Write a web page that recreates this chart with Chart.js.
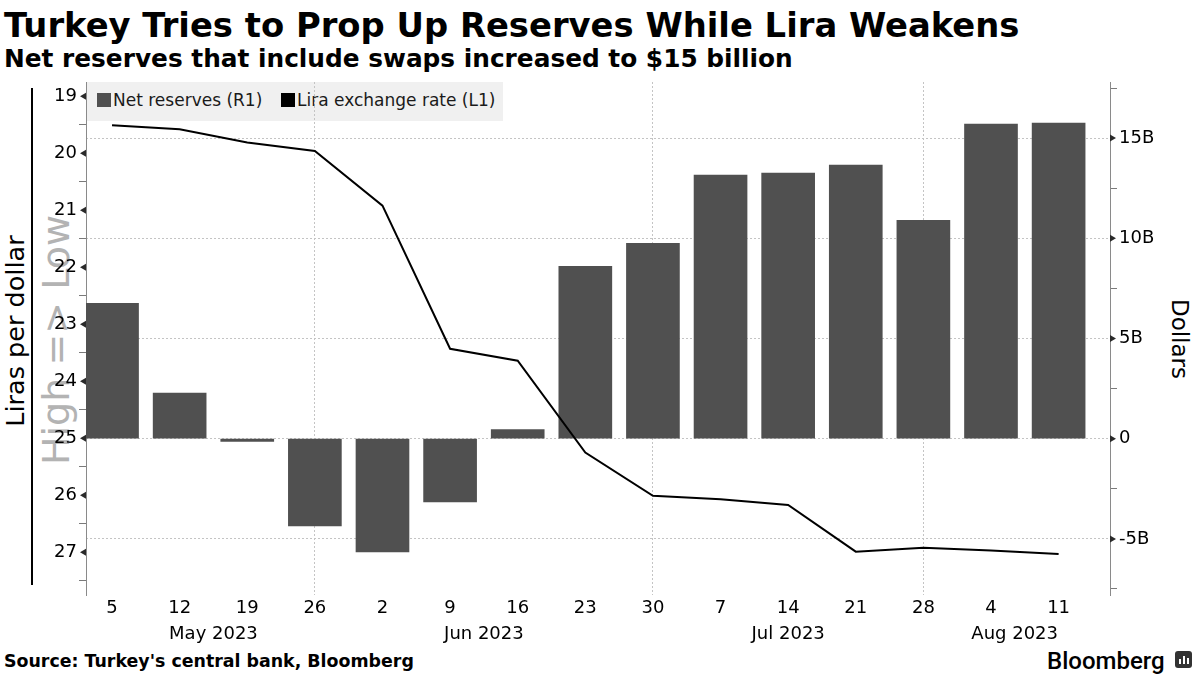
<!DOCTYPE html>
<html>
<head>
<meta charset="utf-8">
<script src="https://cdn.jsdelivr.net/npm/chart.js@4.4.0/dist/chart.umd.min.js"></script>
<style>
  html, body { margin: 0; padding: 0; background: #fff; }
  #wrap { position: relative; width: 1200px; height: 675px; overflow: hidden; font-family: "DejaVu Sans", sans-serif; color: #000; }
  #c { position: absolute; left: 0; top: 0; z-index: 2; }
  .t { position: absolute; white-space: nowrap; line-height: 1; z-index: 1; }
  .rot { position: absolute; z-index: 1; text-align: center; white-space: nowrap; }
  #legend { position: absolute; left: 86px; top: 82px; width: 417px; height: 39px; background: #f0f0f0; z-index: 1; }
  #legend .sw { position: absolute; top: 11px; width: 14px; height: 14px; }
  #legend .lt { position: absolute; top: 9px; font-size: 17px; line-height: 19px; color: #1a1a1a; white-space: nowrap; }
  #logoIcon { position: absolute; left: 1175px; top: 651px; width: 17px; height: 17px; background: #333; border-radius: 3px; z-index: 1; }
  #logoIcon span { position: absolute; bottom: 4px; width: 2px; background: #fff; }
</style>
</head>
<body>
<div id="wrap">
  <div class="t" style="left:4px; top:9px; font-size:33.8px; font-weight:bold;">Turkey Tries to Prop Up Reserves While Lira Weakens</div>
  <div class="t" style="left:4px; top:47px; font-size:24.8px; font-weight:bold;">Net reserves that include swaps increased to $15 billion</div>

  <div id="legend">
    <div class="sw" style="left:11px; background:#505050;"></div>
    <div class="lt" style="left:27px;">Net reserves (R1)</div>
    <div class="sw" style="left:195px; background:#000;"></div>
    <div class="lt" style="left:211px;">Lira exchange rate (L1)</div>
  </div>

  <div class="rot" style="left:-135px; top:316px; width:300px; height:30px; line-height:30px; font-size:25.5px; transform: rotate(-90deg);">Liras per dollar</div>
  <div style="position:absolute; left:31px; top:88px; width:1.5px; height:497px; background:#000; z-index:1;"></div>
  <div class="rot" style="left:-144px; top:318px; width:400px; height:44px; line-height:44px; font-size:38px; color:#b3b3b3; transform: rotate(-90deg);">High =&gt; Low</div>
  <div class="rot" style="left:1030px; top:324px; width:300px; height:30px; line-height:30px; font-size:23px; transform: rotate(90deg);">Dollars</div>

  <div class="t" style="left:4px; top:653px; font-size:17.4px; font-weight:bold;">Source: Turkey's central bank, Bloomberg</div>
  <div class="t" style="left:1047px; top:649px; font-size:24px; font-family: Roboto, 'DejaVu Sans', sans-serif; font-weight:500;">Bloomberg</div>
  <div id="logoIcon"><span style="left:4px; height:5px;"></span><span style="left:8px; height:8px;"></span><span style="left:12px; height:6px;"></span></div>

  <canvas id="c" width="1200" height="675"></canvas>
</div>
<script>
// ---- data ----
const weekLabels = ['5','12','19','26','2','9','16','23','30','7','14','21','28','4','11'];
const monthLabels = ['May 2023','Jun 2023','Jul 2023','Aug 2023'];
const monthLabelAt = [1.5, 5.5, 10, 13.35];
const monthGridAt = [3, 8, 12];
const netReserves = [6.75, 2.28, -0.13, -4.35, -5.65, -3.15, 0.45, 8.6, 9.75, 13.15, 13.25, 13.65, 10.9, 15.7, 15.75];
const liraRate = [19.51, 19.58, 19.81, 19.96, 20.92, 23.43, 23.64, 25.25, 26.01, 26.07, 26.17, 26.99, 26.92, 26.97, 27.03];
const leftTicks = [19, 20, 21, 22, 23, 24, 25, 26, 27];
const rightTicks = [-5, 0, 5, 10, 15];
const rightTickLabels = ['-5B', '0', '5B', '10B', '15B'];

// ---- axis ranges ----
const xMin = -0.385, xMax = 14.76;
const leftMin = 18.75, leftMax = 27.75;
const rightMin = -7.8, rightMax = 17.8;

const leftMinor = leftTicks.map(v => v + 0.5).filter(v => v <= leftMax);
const rightMinor = [rightTicks[0] - 2.5].concat(rightTicks.map(v => v + 2.5)).filter(v => v >= rightMin && v <= rightMax);

// x ticks: week ticks + month label positions
const xTickMap = new Map();
weekLabels.forEach((w, i) => xTickMap.set(i, [w, '']));
monthLabels.forEach((m, k) => {
  const p = monthLabelAt[k];
  const cur = xTickMap.get(p);
  if (cur) cur[1] = m; else xTickMap.set(p, ['', m]);
});
const xTickValues = Array.from(xTickMap.keys()).sort((a, b) => a - b);

Chart.defaults.font.family = "'DejaVu Sans', sans-serif";
Chart.defaults.color = '#000';

const tickArrows = {
  id: 'tickArrows',
  afterDraw(chart) {
    const ctx = chart.ctx;
    const draw = (scale, values, dir) => {
      values.forEach(v => {
        const y = scale.getPixelForValue(v);
        const x0 = dir < 0 ? scale.right : scale.left;
        ctx.beginPath();
        ctx.moveTo(x0, y - 3.5);
        ctx.lineTo(x0 + dir * 6, y);
        ctx.lineTo(x0, y + 3.5);
        ctx.closePath();
        ctx.fill();
      });
    };
    ctx.save();
    ctx.fillStyle = '#2a2a2a';
    draw(chart.scales.yL, leftTicks, -1);
    draw(chart.scales.yR, rightTicks, 1);
    ctx.restore();
  }
};

new Chart(document.getElementById('c'), {
  type: 'bar',
  data: {
    datasets: [
      {
        type: 'line',
        label: 'Lira exchange rate (L1)',
        data: liraRate.map((v, i) => ({ x: i, y: v })),
        yAxisID: 'yL',
        xAxisID: 'x',
        borderColor: '#000',
        borderWidth: 2,
        pointRadius: 0,
        tension: 0,
        fill: false,
        order: 0
      },
      {
        type: 'bar',
        label: 'Net reserves (R1)',
        data: netReserves.map((v, i) => ({ x: i, y: v })),
        yAxisID: 'yR',
        xAxisID: 'x',
        backgroundColor: '#505050',
        borderWidth: 0,
        barThickness: 53,
        order: 1
      }
    ]
  },
  options: {
    responsive: false,
    animation: false,
    devicePixelRatio: 1,
    layout: { padding: { top: 82, right: 0, bottom: 20, left: 0 } },
    plugins: { legend: { display: false }, title: { display: false }, tooltip: { enabled: false } },
    scales: {
      x: {
        type: 'linear',
        position: 'bottom',
        min: xMin,
        max: xMax,
        offset: false,
        afterBuildTicks: s => { s.ticks = xTickValues.map(v => ({ value: v })); },
        afterFit: s => { s.height = 60; },
        ticks: {
          autoSkip: false, maxRotation: 0, minRotation: 0, padding: 0,
          color: '#000',
          font: { size: 18, lineHeight: '26px' },
          callback: v => xTickMap.get(v) || ''
        },
        grid: {
          offset: false,
          drawTicks: false,
          lineWidth: 1,
          color: ctx => (ctx.tick && monthGridAt.includes(ctx.tick.value)) ? '#c4c4c4' : 'rgba(0,0,0,0)'
        },
        border: { display: false, dash: [2, 2] }
      },
      yL: {
        type: 'linear',
        position: 'left',
        reverse: true,
        min: leftMin,
        max: leftMax,
        afterBuildTicks: s => { s.ticks = leftTicks.concat(leftMinor).sort((a, b) => a - b).map(v => ({ value: v })); },
        afterFit: s => { s.width = 86; },
        ticks: {
          padding: 2, color: '#000', font: { size: 18 },
          callback: v => leftTicks.includes(v) ? String(v) : ''
        },
        grid: {
          drawOnChartArea: false,
          drawTicks: true,
          tickLength: 7,
          tickWidth: 1,
          tickColor: ctx => (ctx.tick && leftTicks.includes(ctx.tick.value)) ? 'rgba(0,0,0,0)' : '#7a7a7a'
        },
        border: { display: true, color: '#8a8a8a', width: 1 }
      },
      yR: {
        type: 'linear',
        position: 'right',
        min: rightMin,
        max: rightMax,
        afterBuildTicks: s => { s.ticks = rightTicks.concat(rightMinor).sort((a, b) => a - b).map(v => ({ value: v })); },
        afterFit: s => { s.width = 90; },
        ticks: {
          padding: 2, color: '#000', font: { size: 18 },
          callback: v => { const k = rightTicks.indexOf(v); return k >= 0 ? rightTickLabels[k] : ''; }
        },
        grid: {
          drawOnChartArea: true,
          drawTicks: true,
          tickLength: 7,
          tickWidth: 1,
          lineWidth: 1,
          color: ctx => (ctx.tick && rightTicks.includes(ctx.tick.value)) ? '#c4c4c4' : 'rgba(0,0,0,0)',
          tickColor: ctx => (ctx.tick && rightTicks.includes(ctx.tick.value)) ? 'rgba(0,0,0,0)' : '#7a7a7a'
        },
        border: { display: true, color: '#8a8a8a', width: 1, dash: [2, 2] }
      }
    }
  },
  plugins: [tickArrows]
});
</script>
</body>
</html>
